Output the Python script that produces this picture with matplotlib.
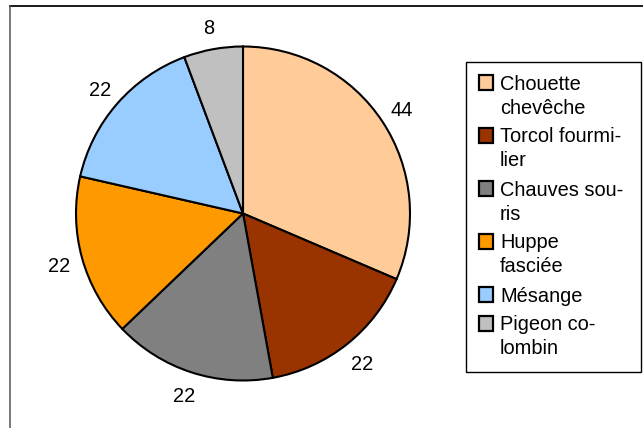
import matplotlib

matplotlib.use("Agg")
import matplotlib.pyplot as plt
from matplotlib.lines import Line2D
from matplotlib.patches import Rectangle

plt.rcParams["font.family"] = ["Liberation Sans", "DejaVu Sans"]

# data
species = [
    "Chouette chevêche",
    "Torcol fourmilier",
    "Chauves souris",
    "Huppe fasciée",
    "Mésange",
    "Pigeon colombin",
]
# legend text as wrapped in the original (hyphenated)
legend_lines = [
    ["Chouette", "chevêche"],
    ["Torcol fourmi-", "lier"],
    ["Chauves sou-", "ris"],
    ["Huppe", "fasciée"],
    ["Mésange"],
    ["Pigeon co-", "lombin"],
]
counts = [44, 22, 22, 22, 22, 8]
colors = ["#FFCC99", "#993300", "#808080", "#FF9900", "#99CCFF", "#C0C0C0"]

W, H = 643, 428
FS = 14.4

fig = plt.figure(figsize=(W / 100, H / 100), dpi=100)


def fx(px):
    return px / W


def fy(py):
    return 1 - py / H


# outer frame (only top and left edges visible)
fig.add_artist(Line2D([fx(10), fx(643)], [fy(6), fy(6)], color="#1a1a1a", lw=1.4,
                      transform=fig.transFigure))
fig.add_artist(Line2D([fx(10), fx(10)], [fy(6), fy(428)], color="#555555", lw=1.1,
                      transform=fig.transFigure))

# pie
cx, cy, r = 243, 213.5, 167
ax = fig.add_axes([fx(cx - r), fy(cy + r), (2 * r) / W, (2 * r) / H])
total = sum(counts)
wedges, _, autotexts = ax.pie(
    counts,
    colors=colors,
    startangle=90,
    counterclock=False,
    autopct=lambda p: f"{p * total / 100:.0f}",
    pctdistance=1.14,
    wedgeprops=dict(edgecolor="black", linewidth=1.5),
    textprops=dict(fontsize=FS, color="black"),
)
for t in autotexts:
    t.set_clip_on(False)
    t.set_va("center_baseline")
ax.set_xlim(-1, 1)
ax.set_ylim(-1, 1)
ax.axis("off")

# legend box
fig.add_artist(Rectangle((fx(466), fy(372)), fx(641) - fx(466), fy(62) - fy(372),
                         transform=fig.transFigure, fill=False, edgecolor="black", lw=1.0))

line_step = 24.0
entry_gap = 5.0
base = 89.5
for lines, col in zip(legend_lines, colors):
    fig.add_artist(Rectangle((fx(478.5), fy(base)), 14 / W, 14.5 / H,
                             transform=fig.transFigure, facecolor=col,
                             edgecolor="black", lw=1.6))
    for i, txt in enumerate(lines):
        fig.text(fx(500), fy(base + i * line_step), txt, fontsize=FS,
                 ha="left", va="baseline")
    base += len(lines) * line_step + entry_gap

fig.savefig("out.png", dpi=100)
